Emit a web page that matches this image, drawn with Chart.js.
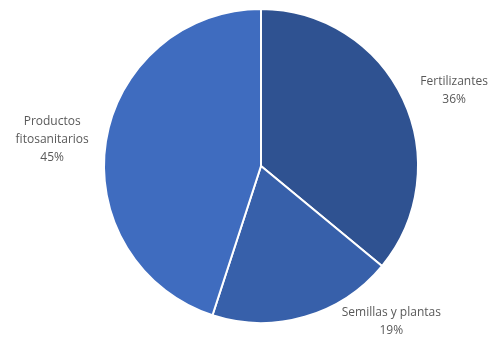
<!DOCTYPE html>
<html>
<head>
<meta charset="utf-8">
<script src="https://cdn.jsdelivr.net/npm/chart.js@4.4.0/dist/chart.umd.min.js"></script>
<style>
    html, body { margin: 0; padding: 0; background: #ffffff; }
    #wrap { width: 496px; height: 344px; position: relative; }
</style>
</head>
<body>
<div id="wrap"><canvas id="pieChart"></canvas></div>
<script>
// Chart data
const categories = ['Fertilizantes', 'Semillas y plantas', 'Productos fitosanitarios'];
const labelLines = [['Fertilizantes'], ['Semillas y plantas'], ['Productos', 'fitosanitarios']];
const shares = [36, 19, 45];
const sliceColors = ['#2f5291', '#3760aa', '#3f6cbf'];

// Label anchor offsets, in units of the pie radius from its centre
const labelOffsets = [[1.23, -0.48], [0.83, 0.99], [-1.33, -0.17]];

// Draws the outside labels like the spreadsheet chart does
const outsideLabels = {
    id: 'outsideLabels',
    afterDatasetsDraw(chart) {
        const ctx = chart.ctx;
        const meta = chart.getDatasetMeta(0);
        ctx.save();
        ctx.font = '12px "Open Sans", Arial, sans-serif';
        ctx.fillStyle = '#595959';
        ctx.textAlign = 'center';
        ctx.textBaseline = 'middle';
        meta.data.forEach((arc, i) => {
            const r = arc.outerRadius;
            const x = arc.x + labelOffsets[i][0] * r;
            const y = arc.y + labelOffsets[i][1] * r;
            const lines = labelLines[i].concat([shares[i] + '%']);
            const lh = 18;
            const top = y - (lines.length - 1) * lh / 2;
            lines.forEach((line, j) => {
                ctx.fillText(line, x, top + j * lh);
            });
        });
        ctx.restore();
    }
};

new Chart(document.getElementById('pieChart'), {
    type: 'pie',
    data: {
        labels: categories,
        datasets: [{
            data: shares,
            backgroundColor: sliceColors,
            borderColor: '#ffffff',
            borderWidth: 2
        }]
    },
    options: {
        responsive: true,
        maintainAspectRatio: false,
        animation: false,
        layout: {
            padding: { top: 7, bottom: 19, left: 103, right: 77 }
        },
        plugins: {
            legend: { display: false },
            tooltip: { enabled: false }
        }
    },
    plugins: [outsideLabels]
});
</script>
</body>
</html>
